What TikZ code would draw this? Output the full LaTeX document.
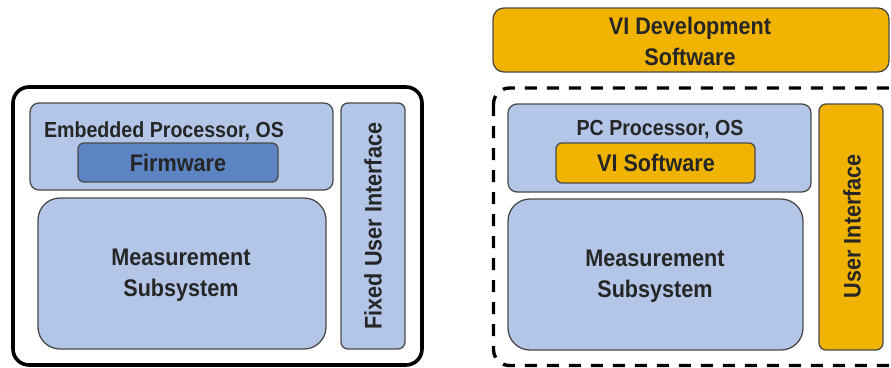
\documentclass[tikz,border=0pt]{standalone}
\usepackage{fontspec}
\setmainfont{Liberation Sans}[BoldFeatures={FakeStretch=0.9}]
\usetikzlibrary{positioning}
\definecolor{paleblue}{HTML}{B3C6E8}
\definecolor{deepblue}{HTML}{5C84C2}
\definecolor{gold}{HTML}{F0B400}
\definecolor{edgegray}{HTML}{4A4A4A}
\tikzset{
  x=1pt, y=-1pt,
  blk/.style={draw=edgegray, line width=1.3pt, rounded corners=9pt},
  bluebox/.style={blk, fill=paleblue},
  darkbox/.style={blk, fill=deepblue, rounded corners=6pt},
  goldbox/.style={blk, fill=gold},
  lbl/.style={font=\bfseries\fontsize{24}{31}\selectfont, align=center, text=black!85, inner sep=0pt},
  slbl/.style={font=\bfseries\fontsize{21.8}{24}\selectfont, align=center, text=black!85, inner sep=0pt},
}
\begin{document}
\begin{tikzpicture}
\useasboundingbox (0,0) rectangle (891,367);
\fill[white] (0,0) rectangle (891,367);

% ---- stand-alone instrument ----
\draw[line width=3.6pt, rounded corners=16pt] (13,87) rectangle (422,365);
\draw[bluebox] (30,103) rectangle (333,190);
\node[slbl] (emb) at (164,131) {Embedded Processor, OS};
\draw[darkbox] (78,143) rectangle (278,182);
\node[lbl] (fw) at (178,163) {Firmware};
\draw[bluebox, rounded corners=22pt] (38,198) rectangle (326,349);
\node[lbl] (msL) at (181,275) {Measurement\\Subsystem};
\draw[bluebox, rounded corners=7pt] (341,103) rectangle (405,349);
\node[lbl, rotate=90] (fui) at (373,226) {Fixed User Interface};

% ---- virtual instrument ----
\draw[goldbox, rounded corners=11pt] (493,8) rectangle (889,72);
\node[lbl] (vid) at (690,41) {VI Development\\Software};
\draw[line width=3.4pt, dash pattern=on 12pt off 10pt, rounded corners=16pt]
  (493.5,88) rectangle (905,365.5);
\draw[bluebox] (508,104) rectangle (811,192);
\node[slbl] (pc) at (660,130) {PC Processor, OS};
\draw[goldbox, rounded corners=6pt] (556,143) rectangle (755,183);
\node[lbl] (vis) at (656,163) {VI Software};
\draw[bluebox, rounded corners=22pt] (508,199) rectangle (803,350);
\node[lbl] (msR) at (655,276) {Measurement\\Subsystem};
\draw[goldbox, rounded corners=7pt] (819,104) rectangle (883,350);
\node[lbl, rotate=90] (ui) at (852,226) {User Interface};
\end{tikzpicture}
\end{document}
